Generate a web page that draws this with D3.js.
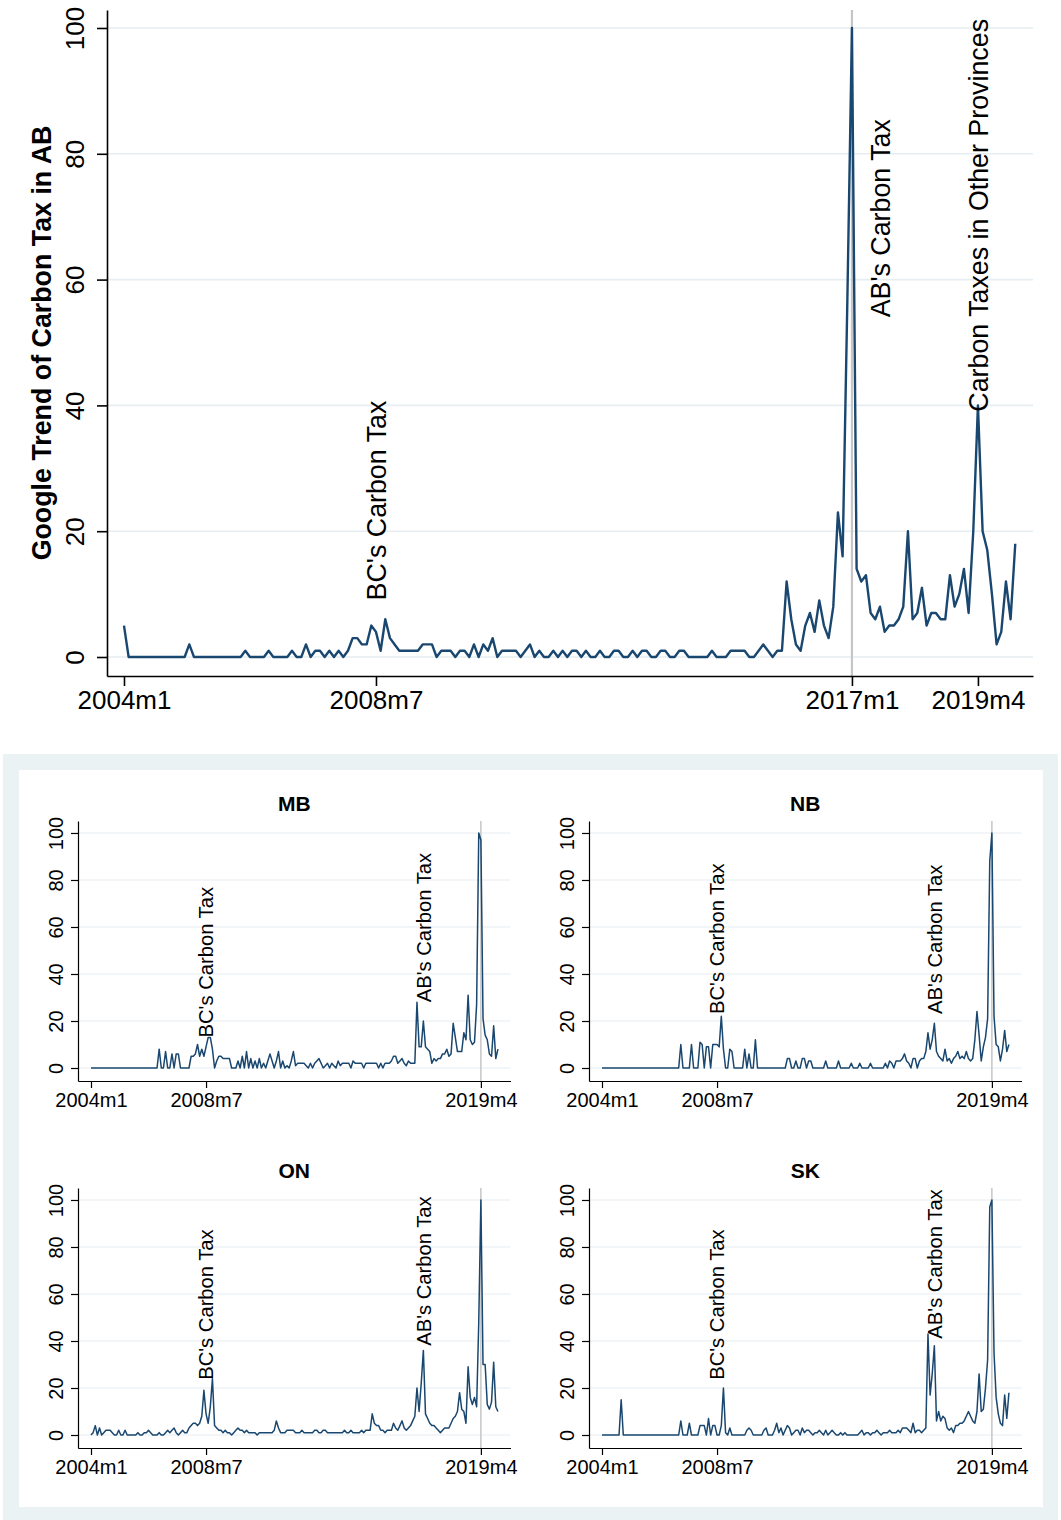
<!DOCTYPE html>
<html><head><meta charset="utf-8">
<script src="https://cdn.jsdelivr.net/npm/d3@7/dist/d3.min.js"></script>
<style>
body{margin:0;background:#fff}
text{font-family:"Liberation Sans",Arial,Helvetica,sans-serif;fill:#000}
</style>
</head><body>
<svg id="chart" width="1061" height="1520"></svg>
<script>
// ---------------- DATA ----------------
// monthly index: 0 = 2004m1 ... 191 = 2019m12
const xTickMonths = [0, 54, 156, 183];
const xTickLabels = ["2004m1", "2008m7", "2017m1", "2019m4"];
const smallTickMonths = [0, 54, 183];
const smallTickLabels = ["2004m1", "2008m7", "2019m4"];
const yTickValues = [0, 20, 40, 60, 80, 100];

const ab = [
 5,0,0,0,0,0,0,0,0,0, 0,0,0,0,2,0,0,0,0,0, 0,0,0,0,0,0,1,0,0,0, 0,1,0,0,0,0,1,0,0,2,
 0,1,1,0,1,0,1,0,1,3, 3,2,2,5,4,1,6,3,2,1, 1,1,1,1,2,2,2,0,1,1, 1,0,1,1,0,2,0,2,1,3,
 0,1,1,1,1,0,1,2,0,1, 0,0,1,0,1,0,1,1,0,1, 0,0,1,0,0,1,1,0,0,1, 0,1,1,0,0,1,1,0,0,1,
 1,0,0,0,0,0,1,0,0,0, 1,1,1,1,0,0,1,2,1,0, 1,1,12,6,2,1,5,7,4,9, 5,3,8,23,16,56,100,14,12,13,
 7,6,8,4,5,5,6,8,20,6, 7,11,5,7,7,6,6,13,8,10, 14,7,20,40,20,17,10,2,4,12, 6,18];

const mb = [
 0,0,0,0,0,0,0,0,0,0, 0,0,0,0,0,0,0,0,0,0, 0,0,0,0,0,0,0,0,0,0, 0,0,8,0,0,7,0,0,6,0,
 6,6,0,0,0,0,0,5,5,6, 10,5,8,5,9,13,13,8,0,3, 5,5,4,4,4,4,0,0,0,3, 0,5,0,7,0,4,0,3,0,4,
 0,2,0,3,6,3,0,3,7,0, 3,0,1,0,3,7,1,2,2,2, 2,1,0,2,0,2,3,4,2,0, 1,2,0,2,1,0,3,1,2,2,
 2,2,0,3,2,2,2,2,0,2, 2,2,2,2,2,0,2,0,2,2, 2,3,5,5,2,3,4,2,1,3, 2,2,2,28,9,9,20,9,8,7,
 2,4,3,4,4,6,6,8,5,6, 19,13,7,7,7,15,12,31,12,10, 11,27,100,97,21,14,12,6,5,18, 4,8];

const nb = [
 0,0,0,0,0,0,0,0,0,0, 0,0,0,0,0,0,0,0,0,0, 0,0,0,0,0,0,0,0,0,0, 0,0,0,0,0,0,0,10,0,0,
 0,0,10,0,0,0,11,10,0,9, 9,0,10,10,10,9,22,8,0,0, 8,7,0,0,0,0,0,8,0,6, 0,0,12,0,0,0,0,0,0,0,
 0,0,0,0,0,0,0,4,4,0, 0,3,0,0,4,4,0,3,3,0, 0,0,0,0,0,3,0,0,0,0, 0,3,0,0,0,0,0,2,0,0,
 0,2,0,0,0,0,2,0,0,0, 0,0,0,2,0,3,2,0,3,3, 3,4,6,3,2,0,4,4,0,3, 4,4,7,15,8,12,19,7,5,4,
 3,8,3,4,2,4,5,7,4,5, 4,7,4,3,4,12,24,14,3,9, 13,21,88,100,22,10,9,3,8,16, 7,10];

const on = [
 0,1,4,0,3,0,1,2,2,2, 1,0,0,2,0,0,2,0,0,0, 0,0,1,0,0,1,1,2,1,0, 0,0,1,0,0,1,2,1,2,3,
 1,0,1,2,1,1,3,4,5,5, 4,5,8,19,9,5,12,24,4,3, 2,2,1,2,1,1,0,1,2,3, 2,2,1,2,1,1,1,1,0,1,
 1,1,1,1,1,1,2,6,3,1, 1,1,2,2,2,2,1,1,1,2, 1,1,1,1,1,2,2,1,1,2, 2,1,1,1,1,1,1,1,1,2,
 1,1,2,1,1,1,1,2,1,2, 2,2,9,5,4,4,2,2,1,2, 2,2,5,3,2,4,6,3,2,3, 4,6,8,20,10,22,36,9,7,5,
 4,4,3,2,1,2,3,3,3,5, 7,8,10,18,11,10,5,29,16,13, 16,12,48,100,30,30,13,11,14,31, 12,10];

const sk = [
 0,0,0,0,0,0,0,0,0,15, 0,0,0,0,0,0,0,0,0,0, 0,0,0,0,0,0,0,0,0,0, 0,0,0,0,0,0,0,6,0,0,
 0,5,0,0,0,0,4,4,4,0, 7,0,4,4,0,0,4,20,1,0, 3,0,0,0,0,0,0,0,2,3, 2,0,0,0,0,0,2,3,0,0,
 0,2,5,1,3,0,2,4,3,0, 1,2,2,0,3,1,2,2,1,0, 1,1,2,1,0,2,0,1,2,1, 0,0,1,0,1,0,0,0,0,0,
 0,1,2,0,1,1,0,1,1,2, 1,0,1,1,1,2,1,1,1,2, 1,3,3,3,2,1,5,1,2,2, 1,2,3,43,17,26,38,6,10,6,
 8,7,3,2,3,1,4,4,5,5, 6,8,10,8,6,5,10,26,10,11, 20,32,97,100,35,16,9,5,4,17, 7,18];

// annotations (month index, y value where the vertical text starts)
const topNotes = ["BC's Carbon Tax", "AB's Carbon Tax", "Carbon Taxes in Other Provinces"];
const topNoteMonths = [54, 162, 183];
const topNoteValues = [9, 54, 39];
const topRefMonth = 156;

const panelNames = ["MB", "NB", "ON", "SK"];
const panelSeries = [mb, nb, on, sk];
const panelNotes = ["BC's Carbon Tax", "AB's Carbon Tax"];
const panelNoteMonths = [54, 156];
const panelNoteValues = [[13, 28], [23, 23], [23.5, 38], [23.5, 41]];
const panelRefMonth = 183;

// ---------------- DRAW ----------------
const NAVY = "#1a476f", GRID = "#e6eef1", REF = "#c6c6c6";
const svg = d3.select("#chart");
svg.append("rect").attr("width", 1061).attr("height", 1520).attr("fill", "#fff");
const months = d3.range(ab.length);

function drawPlot(g, o) {
  const x = d3.scaleLinear().domain(o.xDom).range([o.left, o.right]);
  const y = d3.scaleLinear().domain(o.yDom).range([o.bottom, o.top]);
  // grid
  g.append("g").selectAll("line").data(yTickValues).join("line")
    .attr("x1", o.left).attr("x2", o.right)
    .attr("y1", d => y(d)).attr("y2", d => y(d))
    .attr("stroke", GRID).attr("stroke-width", o.gridW);
  // reference line
  g.append("line").attr("x1", x(o.refMonth)).attr("x2", x(o.refMonth))
    .attr("y1", o.top).attr("y2", o.bottom)
    .attr("stroke", REF).attr("stroke-width", o.refW);
  // series
  g.append("path").datum(months)
    .attr("fill", "none").attr("stroke", NAVY).attr("stroke-width", o.lineW)
    .attr("stroke-linejoin", "round")
    .attr("d", d3.line().x(i => x(i)).y(i => y(o.values[i])));
  // annotations
  o.notes.forEach((t, k) => {
    g.append("text")
      .attr("transform", `translate(${x(o.noteMonths[k])},${y(o.noteValues[k])}) rotate(-90)`)
      .attr("dy", "0.36em").attr("text-anchor", "start")
      .style("font-size", o.noteFs + "px").text(t);
  });
  // x axis
  const xa = g.append("g").attr("transform", `translate(0,${o.bottom})`)
    .call(d3.axisBottom(x).tickValues(o.xTicks).tickFormat((d, i) => o.xLabels[i])
      .tickSize(o.tick).tickSizeOuter(0));
  xa.select(".domain").attr("stroke", "#000").attr("stroke-width", o.axisW);
  xa.selectAll(".tick line").attr("stroke", "#000").attr("stroke-width", o.axisW);
  xa.selectAll(".tick text").attr("y", o.xLabOff).attr("dy", 0)
    .style("font-size", o.tickFs + "px").attr("fill", "#000");
  // y axis
  const ya = g.append("g").attr("transform", `translate(${o.left},0)`)
    .call(d3.axisLeft(y).tickValues(yTickValues).tickSize(o.tick).tickSizeOuter(0));
  ya.select(".domain").attr("stroke", "#000").attr("stroke-width", o.axisW);
  ya.selectAll(".tick line").attr("stroke", "#000").attr("stroke-width", o.axisW);
  ya.selectAll(".tick text").attr("x", null).attr("dy", 0)
    .attr("transform", "rotate(-90)").attr("y", -o.yLabOff).attr("x", 0)
    .attr("text-anchor", "middle").style("font-size", o.tickFs + "px").attr("fill", "#000");
  g.selectAll(".domain").attr("fill", "none");
  return {x, y};
}

// top chart
const gTop = svg.append("g");
drawPlot(gTop, {
  left: 107, right: 1033, top: 10, bottom: 676,
  xDom: [-3.64, 194.8], yDom: [-3.02, 102.86],
  values: ab, refMonth: topRefMonth,
  notes: topNotes, noteMonths: topNoteMonths, noteValues: topNoteValues,
  xTicks: xTickMonths, xLabels: xTickLabels,
  gridW: 1.6, refW: 2.2, lineW: 2.4, axisW: 1.6, tick: 10,
  noteFs: 26.8, tickFs: 26, xLabOff: 33, yLabOff: 23
});
gTop.append("text")
  .attr("transform", "translate(51,343) rotate(-90)")
  .attr("text-anchor", "middle").style("font-size", "26.8px").style("font-weight", "bold")
  .text("Google Trend of Carbon Tax in AB");

// combined small multiples
svg.append("rect").attr("x", 3).attr("y", 754).attr("width", 1055).attr("height", 766).attr("fill", "#eaf2f3");
svg.append("rect").attr("x", 19).attr("y", 770).attr("width", 1024).attr("height", 737).attr("fill", "#fff");

panelNames.forEach((name, k) => {
  const dx = (k % 2) * 511, dy = Math.floor(k / 2) * 367;
  const g = svg.append("g").attr("transform", `translate(${dx},${dy})`);
  drawPlot(g, {
    left: 78, right: 510.5, top: 821, bottom: 1081,
    xDom: [-6.1, 196.9], yDom: [-5.53, 105.1],
    values: panelSeries[k], refMonth: panelRefMonth,
    notes: panelNotes, noteMonths: panelNoteMonths, noteValues: panelNoteValues[k],
    xTicks: smallTickMonths, xLabels: smallTickLabels,
    gridW: 1.2, refW: 1.5, lineW: 1.5, axisW: 1.2, tick: 7,
    noteFs: 20.2, tickFs: 20, xLabOff: 26, yLabOff: 15.5
  });
  g.append("text").attr("x", (78 + 510.5) / 2).attr("y", 810.5)
    .attr("text-anchor", "middle").style("font-size", "21px").style("font-weight", "bold")
    .text(name);
});
</script>
</body></html>
